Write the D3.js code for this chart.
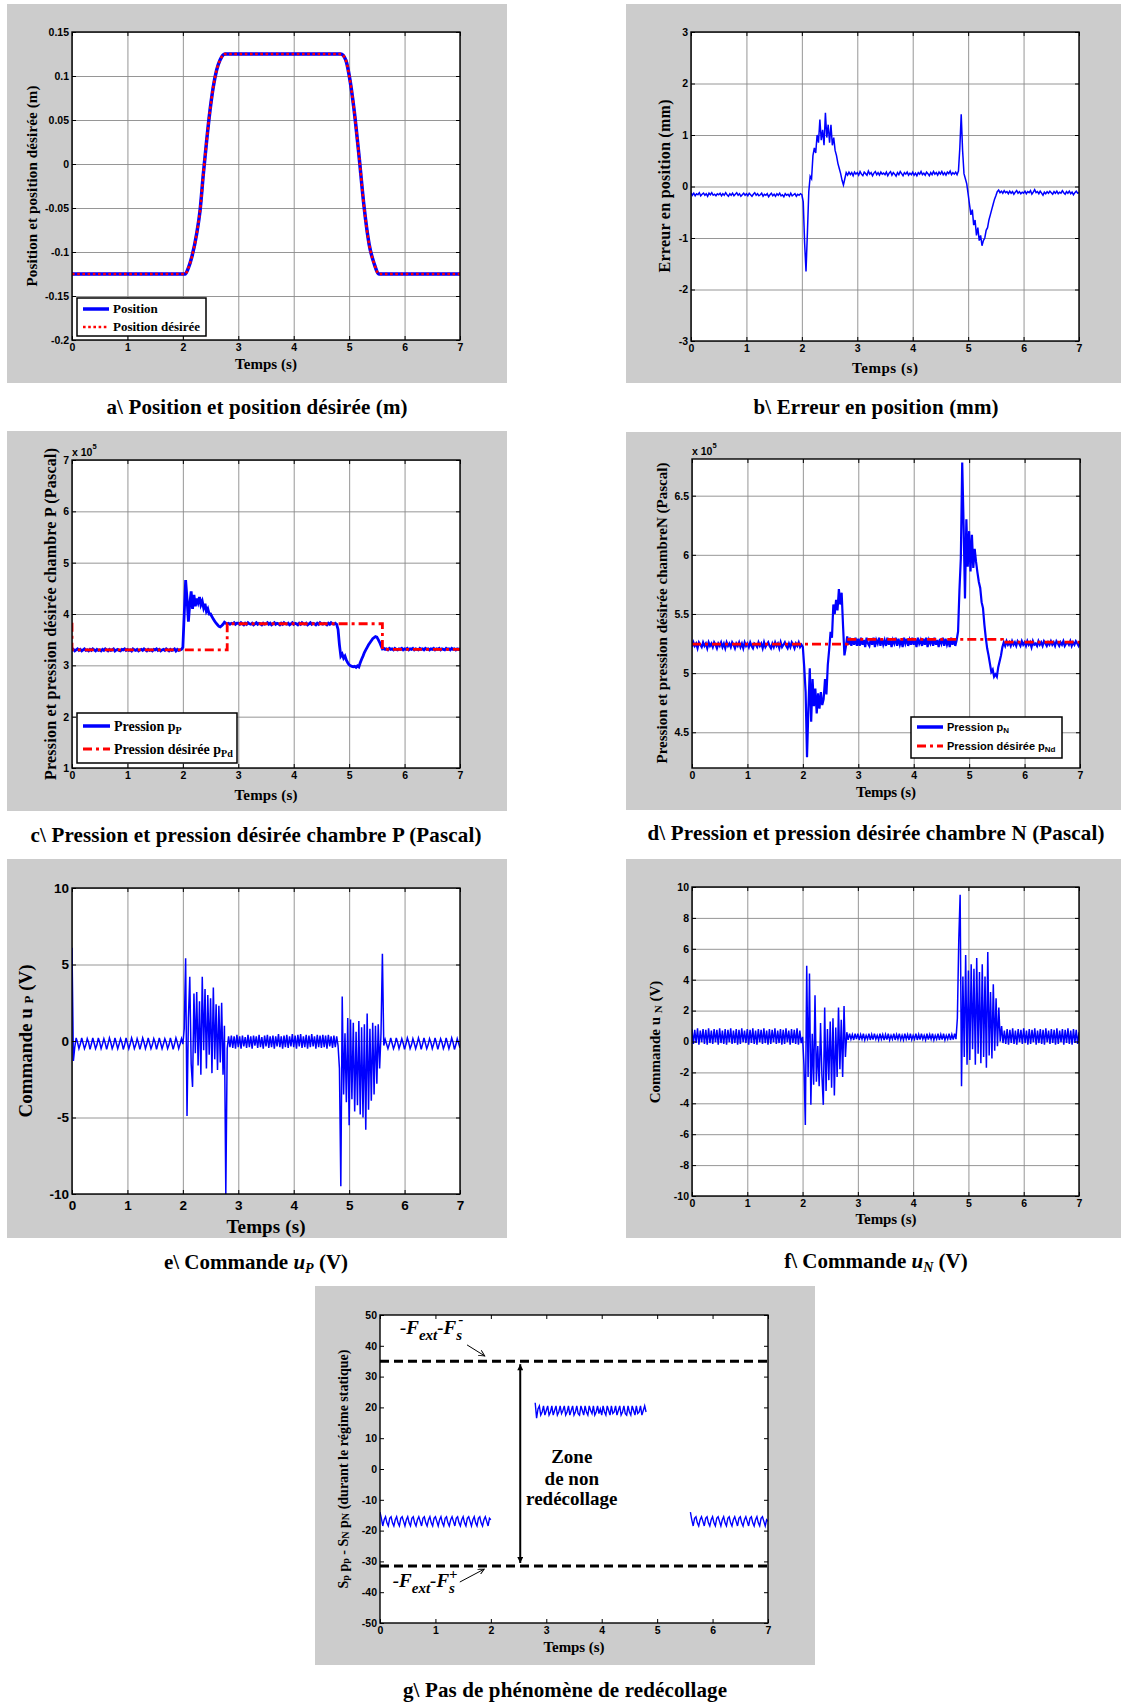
<!DOCTYPE html>
<html><head><meta charset="utf-8">
<script src="https://cdn.jsdelivr.net/npm/d3@7"></script>
<style>body{margin:0;background:#fff;}svg{display:block;}</style>
</head><body>
<svg id="fig" width="1121" height="1704"></svg>
<script>
// ---------------- DATA ----------------
const DT = 0.025;                       // sample period of the recorded signals (s)
const timeTicks = [0,1,2,3,4,5,6,7];

// a) position (m)
const posTime    = [0,2.04,2.1,2.16,2.25,2.31,2.37,2.43,2.49,2.55,2.61,2.67,2.76,4.85,4.94,5.0,5.09,5.18,5.27,5.36,5.45,5.54,7];
const posValue   = [-0.125,-0.125,-0.118,-0.106,-0.079,-0.053,-0.011,0.027,0.061,0.088,0.107,0.118,0.125,0.125,0.118,0.101,0.061,0.008,-0.049,-0.091,-0.113,-0.125,-0.125];
const posDesired = [-0.125,-0.125,-0.118,-0.106,-0.079,-0.053,-0.011,0.027,0.061,0.088,0.107,0.118,0.125,0.125,0.118,0.101,0.061,0.008,-0.049,-0.091,-0.113,-0.125,-0.125];
const posTicks = [-0.2,-0.15,-0.1,-0.05,0,0.05,0.1,0.15];

// b) position error (mm), one row = 0.5 s
const errMM = [
-0.12,-0.17,-0.13,-0.18,-0.14,-0.16,-0.12,-0.18,-0.15,-0.13,-0.17,-0.14,-0.19,-0.13,-0.16,-0.12,-0.17,-0.15,-0.18,-0.14,
-0.16,-0.13,-0.18,-0.14,-0.17,-0.12,-0.16,-0.19,-0.14,-0.17,-0.13,-0.18,-0.15,-0.12,-0.17,-0.14,-0.19,-0.16,-0.13,-0.17,
-0.14,-0.18,-0.13,-0.16,-0.19,-0.15,-0.12,-0.17,-0.14,-0.18,-0.16,-0.13,-0.19,-0.15,-0.17,-0.14,-0.2,-0.16,-0.13,-0.18,
-0.15,-0.19,-0.14,-0.17,-0.13,-0.18,-0.16,-0.2,-0.14,-0.17,-0.15,-0.19,-0.13,-0.18,-0.16,-0.14,-0.19,-0.15,-0.17,-0.14,
-0.16,-0.3,-1.1,-1.65,-0.9,-0.1,0.2,0.15,0.6,0.75,0.65,1.0,0.85,1.3,0.9,1.1,0.8,1.43,0.95,1.2,
0.85,1.2,0.8,0.95,0.7,0.6,0.45,0.35,0.25,0.12,0.03,0.15,0.27,0.22,0.28,0.23,0.27,0.21,0.28,0.24,
0.27,0.22,0.29,0.24,0.21,0.28,0.25,0.22,0.3,0.24,0.27,0.21,0.26,0.29,0.23,0.27,0.22,0.28,0.24,0.26,
0.23,0.28,0.21,0.26,0.29,0.22,0.27,0.24,0.2,0.27,0.23,0.29,0.25,0.21,0.27,0.24,0.28,0.22,0.26,0.23,
0.28,0.22,0.26,0.21,0.27,0.24,0.29,0.23,0.26,0.22,0.28,0.25,0.21,0.27,0.23,0.29,0.24,0.27,0.22,0.28,
0.24,0.29,0.23,0.27,0.22,0.28,0.25,0.3,0.23,0.27,0.24,0.28,0.23,0.3,0.75,1.4,0.7,0.25,0.15,0.05,
-0.15,-0.35,-0.55,-0.45,-0.75,-0.65,-0.95,-0.8,-1.05,-0.95,-1.15,-1.05,-1.0,-0.85,-0.8,-0.65,-0.55,-0.45,-0.35,-0.25,
-0.18,-0.1,-0.07,-0.12,-0.09,-0.13,-0.08,-0.12,-0.1,-0.14,-0.09,-0.13,-0.1,-0.15,-0.11,-0.08,-0.13,-0.1,-0.14,-0.11,
-0.13,-0.09,-0.14,-0.1,-0.12,-0.08,-0.15,-0.11,-0.06,-0.12,-0.1,-0.14,-0.09,-0.13,-0.17,-0.11,-0.14,-0.1,-0.13,-0.09,
-0.12,-0.15,-0.1,-0.13,-0.09,-0.14,-0.11,-0.13,-0.08,-0.12,-0.15,-0.1,-0.13,-0.09,-0.14,-0.11,-0.16,-0.12,-0.09,-0.13,
-0.12];
const errTicks = [-3,-2,-1,0,1,2,3];

// c) pressure chamber P (x1e5 Pa)
const pP = [
3.29,3.31,3.28,3.3,3.32,3.29,3.31,3.28,3.3,3.32,3.29,3.3,3.28,3.31,3.29,3.32,3.3,3.28,3.31,3.29,
3.3,3.28,3.31,3.29,3.32,3.3,3.28,3.31,3.29,3.3,3.32,3.28,3.3,3.31,3.29,3.28,3.31,3.3,3.32,3.29,
3.31,3.29,3.3,3.28,3.32,3.3,3.29,3.31,3.28,3.3,3.31,3.29,3.32,3.3,3.28,3.31,3.29,3.3,3.28,3.31,
3.3,3.32,3.29,3.31,3.28,3.3,3.31,3.29,3.32,3.3,3.28,3.31,3.29,3.3,3.32,3.28,3.31,3.29,3.3,3.31,
3.35,4.0,4.66,4.3,3.85,4.2,4.44,4.1,4.37,4.15,4.3,4.22,4.33,4.18,4.25,4.12,4.2,4.05,4.1,4.0,
4.0,3.95,3.9,3.86,3.82,3.79,3.76,3.75,3.77,3.8,3.84,3.82,3.81,3.82,3.8,3.82,3.81,3.83,3.8,3.82,
3.82,3.8,3.83,3.81,3.79,3.82,3.8,3.83,3.81,3.8,3.82,3.79,3.81,3.83,3.8,3.82,3.81,3.79,3.82,3.8,
3.81,3.83,3.8,3.82,3.79,3.81,3.83,3.8,3.82,3.81,3.79,3.82,3.8,3.83,3.81,3.8,3.82,3.79,3.81,3.83,
3.8,3.82,3.81,3.79,3.82,3.8,3.83,3.81,3.8,3.82,3.79,3.81,3.83,3.8,3.82,3.81,3.79,3.82,3.8,3.83,
3.81,3.8,3.82,3.81,3.79,3.82,3.8,3.83,3.81,3.8,3.82,3.8,3.7,3.4,3.18,3.22,3.14,3.18,3.1,3.05,
3.01,2.99,2.98,2.97,2.98,2.96,2.99,2.97,3.05,3.12,3.18,3.25,3.3,3.35,3.4,3.44,3.48,3.52,3.54,3.56,
3.55,3.5,3.45,3.38,3.32,3.33,3.31,3.32,3.3,3.33,3.31,3.32,3.3,3.33,3.31,3.3,3.32,3.31,3.33,3.3,
3.32,3.31,3.33,3.3,3.32,3.31,3.33,3.3,3.32,3.31,3.3,3.33,3.31,3.32,3.3,3.33,3.31,3.32,3.3,3.32,
3.31,3.33,3.3,3.32,3.31,3.33,3.3,3.32,3.31,3.3,3.33,3.31,3.32,3.3,3.33,3.31,3.32,3.3,3.32,3.31,
3.32];
const pPdTime  = [0,0,2.8,2.8,5.6,5.6,7];
const pPdValue = [3.83,3.3,3.3,3.81,3.81,3.31,3.31];
const pPTicks = [1,2,3,4,5,6,7];

// d) pressure chamber N (x1e5 Pa)
const pN = [
5.22,5.26,5.23,5.25,5.21,5.26,5.24,5.22,5.26,5.23,5.25,5.21,5.26,5.23,5.25,5.22,5.26,5.24,5.21,5.25,
5.23,5.26,5.22,5.25,5.21,5.26,5.23,5.25,5.22,5.26,5.24,5.21,5.25,5.23,5.26,5.22,5.25,5.21,5.26,5.23,
5.25,5.22,5.26,5.23,5.21,5.25,5.24,5.22,5.26,5.23,5.25,5.21,5.26,5.22,5.24,5.26,5.23,5.21,5.25,5.22,
5.26,5.23,5.25,5.21,5.26,5.22,5.24,5.26,5.23,5.21,5.25,5.22,5.26,5.24,5.21,5.25,5.23,5.26,5.22,5.24,
5.22,5.05,4.84,4.29,4.7,5.04,4.59,4.95,4.72,4.87,4.66,4.83,4.7,4.84,4.73,4.78,4.95,4.82,5.07,5.2,
5.35,5.3,5.58,5.5,5.62,5.53,5.71,5.58,5.68,5.4,5.15,5.22,5.31,5.24,5.3,5.23,5.29,5.24,5.3,5.23,
5.29,5.23,5.3,5.24,5.28,5.22,5.3,5.25,5.23,5.29,5.24,5.3,5.22,5.28,5.25,5.3,5.23,5.29,5.24,5.28,
5.23,5.3,5.24,5.29,5.22,5.28,5.25,5.3,5.23,5.29,5.24,5.28,5.22,5.3,5.25,5.29,5.23,5.28,5.24,5.3,
5.24,5.29,5.22,5.3,5.25,5.28,5.23,5.29,5.24,5.3,5.22,5.28,5.25,5.29,5.23,5.3,5.24,5.28,5.22,5.29,
5.25,5.3,5.23,5.29,5.24,5.28,5.22,5.3,5.24,5.29,5.23,5.28,5.35,5.7,5.97,6.78,6.25,5.63,6.3,5.9,
6.2,5.86,6.17,5.89,6.05,5.94,5.85,5.77,5.72,5.6,5.55,5.41,5.3,5.21,5.15,5.08,5.01,5.03,4.97,4.99,
4.97,5.05,5.1,5.15,5.22,5.26,5.23,5.27,5.24,5.26,5.23,5.27,5.24,5.26,5.23,5.27,5.25,5.23,5.27,5.24,
5.26,5.23,5.27,5.24,5.26,5.22,5.27,5.24,5.25,5.23,5.27,5.24,5.26,5.23,5.27,5.25,5.23,5.26,5.24,5.27,
5.24,5.26,5.23,5.27,5.25,5.23,5.26,5.24,5.27,5.23,5.25,5.26,5.24,5.27,5.23,5.26,5.24,5.27,5.25,5.23,
5.26];
const pNdTime  = [0,2.8,2.8,5.6,5.6,7];
const pNdValue = [5.245,5.245,5.285,5.285,5.262,5.262];
const pNTicks = [4.5,5,5.5,6,6.5];

// e) command uP (V)
const uP = [
6.1,-1.3,-0.4,0.2,-0.1,-0.5,-0.2,0.2,-0.15,-0.5,-0.25,0.15,-0.1,-0.55,-0.2,0.2,-0.15,-0.5,-0.25,0.2,
-0.1,-0.5,-0.2,0.15,-0.15,-0.55,-0.2,0.2,-0.1,-0.5,-0.25,0.2,-0.15,-0.5,-0.2,0.15,-0.1,-0.55,-0.25,0.2,
-0.15,-0.5,-0.2,0.2,-0.1,-0.5,-0.25,0.15,-0.15,-0.55,-0.2,0.2,-0.1,-0.5,-0.2,0.2,-0.15,-0.5,-0.25,0.15,
-0.1,-0.55,-0.2,0.2,-0.15,-0.5,-0.2,0.15,-0.1,-0.5,-0.25,0.2,-0.15,-0.55,-0.2,0.2,-0.1,-0.5,-0.2,0.15,
-0.2,0.8,5.4,-4.9,1.5,4.2,-1.5,-3.0,3.1,-0.8,3.2,-1.6,2.6,-2.2,4.2,-0.6,3.4,-1.8,3.0,-0.9,
2.8,-2.1,3.5,-1.2,2.4,-1.9,2.3,-1.4,2.5,-2.2,1.0,-10,-0.5,0.3,-0.4,0.35,-0.45,0.3,-0.5,0.4,
-0.4,0.3,-0.5,0.35,-0.35,0.25,-0.45,0.4,-0.4,0.3,-0.5,0.35,-0.3,0.3,-0.45,0.4,-0.4,0.25,-0.5,0.35,
-0.35,0.4,-0.45,0.3,-0.4,0.35,-0.5,0.3,-0.35,0.45,-0.4,0.3,-0.5,0.35,-0.4,0.4,-0.45,0.3,-0.35,0.45,
-0.4,0.35,-0.5,0.4,-0.35,0.45,-0.45,0.3,-0.4,0.4,-0.5,0.35,-0.4,0.45,-0.35,0.3,-0.5,0.4,-0.4,0.35,
-0.45,0.4,-0.4,0.35,-0.5,0.4,-0.35,0.3,-0.45,0.35,-0.4,0.3,-0.3,-1.8,-9.5,2.9,-3.5,0.5,-4.0,1.5,
-5.5,1.4,-3.8,1.2,-4.6,0.6,-4.2,1.3,-4.8,0.9,-5.0,1.1,-5.8,1.8,-4.5,0.8,-3.9,1.2,-3.5,1.0,
-2.8,1.1,-1.8,0.5,5.7,-0.3,0.1,-0.2,-0.5,-0.2,0.2,-0.15,-0.5,-0.25,0.2,-0.1,-0.5,-0.2,0.15,-0.15,
-0.55,-0.2,0.2,-0.1,-0.5,-0.25,0.15,-0.15,-0.5,-0.2,0.2,-0.1,-0.55,-0.2,0.2,-0.15,-0.5,-0.25,0.15,-0.1,
-0.5,-0.2,0.2,-0.15,-0.55,-0.2,0.15,-0.1,-0.5,-0.25,0.2,-0.15,-0.5,-0.2,0.2,-0.1,-0.55,-0.25,0.15,-0.15,
-0.45];
const uPTicks = [-10,-5,0,5,10];

// f) command uN (V)
const uN = [
0.8,-0.15,0.75,-0.1,0.85,-0.2,0.7,-0.05,0.8,-0.15,0.75,-0.2,0.85,-0.1,0.7,-0.15,0.8,-0.05,0.75,-0.2,
0.85,-0.1,0.7,-0.15,0.8,-0.2,0.75,-0.05,0.85,-0.15,0.7,-0.1,0.8,-0.2,0.75,-0.15,0.85,-0.05,0.7,-0.1,
0.8,-0.2,0.75,-0.1,0.85,-0.15,0.7,-0.2,0.8,-0.05,0.75,-0.15,0.85,-0.1,0.7,-0.2,0.8,-0.15,0.75,-0.05,
0.85,-0.15,0.7,-0.1,0.8,-0.2,0.75,-0.15,0.85,-0.05,0.7,-0.2,0.8,-0.1,0.75,-0.15,0.85,-0.2,0.7,-0.1,
0.3,-1.5,-5.4,4.9,-2.3,4.4,-4.1,0.5,-2.8,3.0,-2.6,-0.3,-2.9,1.2,-2.2,-4.1,2.2,-3.2,0.8,-2.5,
1.3,-3.0,1.5,-3.5,0.9,-2.3,2.2,-1.8,1.4,-2.3,2.3,-1.0,0.6,0.1,0.5,0.15,0.45,0.1,0.5,0.15,
0.5,0.1,0.45,0.15,0.5,0.1,0.4,0.15,0.5,0.1,0.45,0.12,0.5,0.15,0.4,0.1,0.5,0.15,0.45,0.1,
0.45,0.12,0.5,0.1,0.4,0.15,0.5,0.1,0.45,0.15,0.5,0.12,0.4,0.1,0.5,0.15,0.45,0.1,0.5,0.12,
0.4,0.15,0.5,0.1,0.45,0.12,0.5,0.15,0.4,0.1,0.5,0.12,0.45,0.15,0.5,0.1,0.4,0.15,0.5,0.1,
0.45,0.12,0.5,0.1,0.4,0.15,0.5,0.1,0.45,0.12,0.5,0.15,1.5,6.5,9.5,-2.9,4.2,-1.0,5.6,-1.5,
4.6,-1.2,5.0,-0.5,4.7,-1.5,5.4,-0.8,4.5,-1.4,5.0,-1.0,4.2,-1.7,5.8,-0.9,3.2,-1.1,3.7,-0.6,
2.8,-0.3,2.2,0.0,1.0,-0.1,0.7,-0.15,0.8,-0.2,0.75,-0.1,0.85,-0.15,0.7,-0.2,0.8,-0.05,0.75,-0.15,
0.85,-0.1,0.7,-0.2,0.8,-0.15,0.75,-0.05,0.85,-0.2,0.7,-0.1,0.8,-0.15,0.75,-0.2,0.85,-0.05,0.7,-0.15,
0.8,-0.1,0.75,-0.2,0.85,-0.15,0.7,-0.05,0.8,-0.2,0.75,-0.1,0.85,-0.15,0.7,-0.2,0.8,-0.1,0.75,-0.15,
0.6];
const uNTicks = [-10,-8,-6,-4,-2,0,2,4,6,8,10];

// g) Sp pP - SN pN during static phases (N); null = not in static phase
const forceStatic = [
-14,-16,-18.5,-16.5,-15.5,-17.5,-18.5,-16,-15.5,-17.5,-18.5,-16.5,-15.5,-17.5,-18.5,-16,-15.5,-17,-18.5,-16.5,
-15.5,-17.5,-18.5,-16,-15.5,-17.5,-18.5,-16.5,-15.5,-17,-18.5,-16,-15.5,-17.5,-18.5,-16.5,-15.5,-17.5,-18.5,-16,
-15.5,-17,-18.5,-16.5,-15.5,-17.5,-18.5,-16,-15.5,-17.5,-18.5,-16.5,-15.5,-17,-18.5,-16,-15.5,-17.5,-18.5,-16.5,
-15.5,-17.5,-18.5,-16,-15.5,-17,-18.5,-16.5,-15.5,-17.5,-18.5,-16,-15.5,-17.5,-18.5,-16.5,-15.5,-17,-18.5,-16,
-16.5,null,null,null,null,null,null,null,null,null,null,null,null,null,null,null,null,null,null,null,
null,null,null,null,null,null,null,null,null,null,null,null,21.5,16.5,19.5,20.5,17.5,18.5,20.5,17.5,
19,20.5,17.5,18.5,20.5,17.5,19,20.5,17.5,18.5,20.5,18,19,20.5,17.5,18.5,20.5,17.5,19,20.5,
17.5,18.5,20.5,18,17.5,20.5,19,17.5,20.5,18.5,17.5,20.5,19,18,20.5,17.5,18.5,20.5,18,19.5,
17.5,20.5,18.5,17.5,20.5,19,17.5,20.5,18,18.5,20.5,17.5,19,20.5,17.5,18.5,20.5,18,17.5,20.5,
18.5,17.5,20.5,19,17.5,20.5,18,18.5,20.5,17.5,19,20.5,18.5,null,null,null,null,null,null,null,
null,null,null,null,null,null,null,null,null,null,null,null,null,null,null,null,null,null,null,null,
null,null,null,null,-14,-16.5,-18.5,-16,-15.5,-17.5,-18.5,-16.5,-15.5,-17,-18.5,-16,-15.5,-17.5,-18.5,-16.5,
-15.5,-17.5,-18.5,-16,-15.5,-17,-18.5,-16.5,-15.5,-17.5,-18.5,-16,-15.5,-17.5,-18.5,-16.5,-15.5,-17,-18.5,-16,
-15.5,-17.5,-18.5,-16.5,-15.5,-17,-18.5,-16,-15.5,-17.5,-18.5,-16.5,-15.5,-17.5,-18.5,-16,-15.5,-17,-18.5,-16.5,
-17];
const thresholdUpper = 35;    // -Fext - Fs-
const thresholdLower = -31.5; // -Fext - Fs+
const forceTicks = [-50,-40,-30,-20,-10,0,10,20,30,40,50];

// ---------------- DRAWING ----------------
const svg = d3.select('#fig');
const SERIF = '"Liberation Serif","Times New Roman",Times,serif';
const SANS = '"Liberation Sans",Arial,Helvetica,sans-serif';
const BLUE = '#0000ff', RED = '#ff0000';

function pathFor(x, y, ts, vs, curve) {
  return d3.line().defined(d => d != null)
    .x((d, i) => x(ts[i])).y(d => y(d)).curve(curve || d3.curveLinear)(vs);
}
function sampledTimes(vs) { return vs.map((_, i) => i * DT); }

function makePanel(o) {
  const [bx0, by0, bx1, by1] = o.box, [px0, py0, px1, py1] = o.plot;
  const root = svg.append('g');
  root.append('rect').attr('x', bx0).attr('y', by0).attr('width', bx1 - bx0).attr('height', by1 - by0).attr('fill', '#cccccc');
  root.append('rect').attr('x', px0).attr('y', py0).attr('width', px1 - px0).attr('height', py1 - py0).attr('fill', '#ffffff');
  const x = d3.scaleLinear().domain([0, 7]).range([px0, px1]);
  const y = d3.scaleLinear().domain(o.yDomain).range([py1, py0]);
  const gridStyle = s => { s.select('.domain').remove(); s.selectAll('.tick text').remove();
    s.selectAll('.tick line').attr('stroke', '#8a8a8a').attr('stroke-width', 0.9); };
  if (o.grid !== false) {
    root.append('g').attr('transform', `translate(0,${py1})`)
      .call(d3.axisBottom(x).tickValues(timeTicks).tickSize(-(py1 - py0))).call(gridStyle);
    root.append('g').attr('transform', `translate(${px0},0)`)
      .call(d3.axisLeft(y).tickValues(o.yTicks).tickSize(-(px1 - px0))).call(gridStyle);
  }
  root.append('clipPath').attr('id', 'clip-' + o.id).append('rect')
    .attr('x', px0).attr('y', py0 - 1).attr('width', px1 - px0).attr('height', py1 - py0 + 2);
  const plot = root.append('g').attr('clip-path', `url(#clip-${o.id})`);
  const over = root.append('g');
  function finish() {
    const tickStyle = s => { s.select('.domain').remove();
      s.selectAll('.tick line').attr('stroke', '#000').attr('stroke-width', 1);
      s.selectAll('.tick text').attr('font-family', SANS).attr('font-weight', 'bold')
        .attr('font-size', o.tickFont).attr('fill', '#000'); };
    const none = () => '';
    over.append('g').attr('transform', `translate(0,${py1})`)
      .call(d3.axisBottom(x).tickValues(timeTicks).tickSize(-4).tickPadding(o.xPad).tickFormat(d => String(d))).call(tickStyle);
    over.append('g').attr('transform', `translate(0,${py0})`)
      .call(d3.axisTop(x).tickValues(timeTicks).tickSize(-4).tickFormat(none)).call(tickStyle);
    over.append('g').attr('transform', `translate(${px0},0)`)
      .call(d3.axisLeft(y).tickValues(o.yTicks).tickSize(-4).tickPadding(3).tickFormat(d => String(+d.toFixed(3)))).call(tickStyle);
    over.append('g').attr('transform', `translate(${px1},0)`)
      .call(d3.axisRight(y).tickValues(o.yTicks).tickSize(-4).tickFormat(none)).call(tickStyle);
    over.append('rect').attr('x', px0).attr('y', py0).attr('width', px1 - px0).attr('height', py1 - py0)
      .attr('fill', 'none').attr('stroke', '#000').attr('stroke-width', 1.4);
  }
  return { x, y, plot, over, root, finish, px0, py0, px1, py1 };
}

// text helper: parts = [{t, sub, sup, it, fs, dx}]
function rich(sel, parts) {
  parts.forEach(p => {
    const ts = sel.append('tspan').text(p.t);
    if (p.sub) ts.attr('baseline-shift', p.shift || '-28%').attr('font-size', p.fs || '72%');
    if (p.sup) ts.attr('baseline-shift', p.shift || '45%').attr('font-size', p.fs || '72%');
    if (p.it) ts.attr('font-style', 'italic');
    if (p.dx) ts.attr('dx', p.dx);
  });
  return sel;
}
function serifText(x, y, size, parts, opts) {
  opts = opts || {};
  const t = svg.append('text').attr('font-family', opts.sans ? SANS : SERIF).attr('font-weight', 'bold')
    .attr('font-size', size).attr('fill', '#000').attr('text-anchor', opts.anchor || 'middle');
  if (opts.rotate) { t.attr('transform', `translate(${x},${y}) rotate(-90)`).attr('dominant-baseline', 'central'); }
  else { t.attr('x', x).attr('y', y); if (opts.central) t.attr('dominant-baseline', 'central'); }
  if (typeof parts === 'string') t.text(parts); else rich(t, parts);
  if (opts.len) t.attr('textLength', opts.len).attr('lengthAdjust', 'spacing');
  return t;
}
function legendBox(x0, y0, w, h) {
  svg.append('rect').attr('x', x0).attr('y', y0).attr('width', w).attr('height', h)
    .attr('fill', '#fff').attr('stroke', '#000').attr('stroke-width', 1.5);
}
function legendLine(x0, x1, yy, color, width, dash) {
  const l = svg.append('line').attr('x1', x0).attr('x2', x1).attr('y1', yy).attr('y2', yy)
    .attr('stroke', color).attr('stroke-width', width);
  if (dash) l.attr('stroke-dasharray', dash);
}
function exponentLabel(P) {
  const ex = svg.append('text').attr('x', P.px0).attr('y', P.py0 - 4).attr('font-family', SANS)
    .attr('font-weight', 'bold').attr('font-size', 10.5).attr('fill', '#000');
  rich(ex, [{ t: 'x 10' }, { t: '5', sup: true, fs: 7.5, shift: '7' }]);
}

// ---- Panel a ----
{
  const P = makePanel({ id: 'a', box: [7, 4, 507, 383], plot: [72, 32, 460, 340], yDomain: [-0.2, 0.15], yTicks: posTicks, tickFont: 10.5, xPad: 4 });
  P.plot.append('path').attr('d', pathFor(P.x, P.y, posTime, posValue, d3.curveMonotoneX))
    .attr('fill', 'none').attr('stroke', BLUE).attr('stroke-width', 3.5);
  P.plot.append('path').attr('d', pathFor(P.x, P.y, posTime, posDesired, d3.curveMonotoneX))
    .attr('fill', 'none').attr('stroke', RED).attr('stroke-width', 2.6).attr('stroke-dasharray', '2.6,2.6');
  P.finish();
  const lx = P.px0 + 5, ly = P.py1 - 42;
  legendBox(lx, ly, 129, 38);
  legendLine(lx + 6, lx + 32, ly + 11, BLUE, 3.5);
  legendLine(lx + 6, lx + 32, ly + 29, RED, 2.6, '2.6,2.6');
  serifText(lx + 36, ly + 15, 13, 'Position', { anchor: 'start' });
  serifText(lx + 36, ly + 33, 13, 'Position désirée', { anchor: 'start' });
  serifText(266, 364, 15, 'Temps (s)', { central: true, len: 62 });
  serifText(32, 186, 15, 'Position et position désirée (m)', { rotate: true, len: 201 });
  serifText(257, 414, 21, 'a\\ Position et position désirée (m)', { len: 301 });
}

// ---- Panel b ----
{
  const P = makePanel({ id: 'b', box: [626, 4, 1121, 383], plot: [691, 32, 1079, 341], yDomain: [-3, 3], yTicks: errTicks, tickFont: 10.5, xPad: 4 });
  P.plot.append('path').attr('d', pathFor(P.x, P.y, sampledTimes(errMM), errMM))
    .attr('fill', 'none').attr('stroke', BLUE).attr('stroke-width', 1.5);
  P.finish();
  serifText(885, 368, 15, 'Temps (s)', { central: true, len: 66 });
  serifText(664, 186, 16, 'Erreur en position (mm)', { rotate: true, len: 173 });
  serifText(876, 414, 21, 'b\\ Erreur en position (mm)', { len: 245 });
}

// ---- Panel c ----
{
  const P = makePanel({ id: 'c', box: [7, 431, 507, 811], plot: [72, 460, 460, 768], yDomain: [1, 7], yTicks: pPTicks, tickFont: 10.5, xPad: 4 });
  P.plot.append('path').attr('d', pathFor(P.x, P.y, sampledTimes(pP), pP))
    .attr('fill', 'none').attr('stroke', BLUE).attr('stroke-width', 2.8);
  P.plot.append('path').attr('d', pathFor(P.x, P.y, pPdTime, pPdValue))
    .attr('fill', 'none').attr('stroke', RED).attr('stroke-width', 2.8).attr('stroke-dasharray', '9,4,3,4');
  P.finish();
  exponentLabel(P);
  const lx = P.px0 + 5, ly = P.py1 - 55;
  legendBox(lx, ly, 160, 50);
  legendLine(lx + 6, lx + 33, ly + 13, BLUE, 3.5);
  legendLine(lx + 6, lx + 33, ly + 36, RED, 3, '9,4,3,4');
  serifText(lx + 37, ly + 18, 14, [{ t: 'Pression p' }, { t: 'P', sub: true }], { anchor: 'start' });
  serifText(lx + 37, ly + 41, 14, [{ t: 'Pression désirée p' }, { t: 'Pd', sub: true }], { anchor: 'start' });
  serifText(266, 795, 15, 'Temps (s)', { central: true, len: 63 });
  serifText(50, 614, 16, 'Pression et pression désirée chambre P (Pascal)', { rotate: true, len: 332 });
  serifText(256, 842, 21, 'c\\ Pression et pression désirée chambre P (Pascal)', { len: 451 });
}

// ---- Panel d ----
{
  const P = makePanel({ id: 'd', box: [626, 432, 1121, 810], plot: [692, 459, 1080, 768], yDomain: [4.198, 6.81], yTicks: pNTicks, tickFont: 10.5, xPad: 4 });
  P.plot.append('path').attr('d', pathFor(P.x, P.y, sampledTimes(pN), pN))
    .attr('fill', 'none').attr('stroke', BLUE).attr('stroke-width', 2.2);
  P.plot.append('path').attr('d', pathFor(P.x, P.y, pNdTime, pNdValue))
    .attr('fill', 'none').attr('stroke', RED).attr('stroke-width', 2.8).attr('stroke-dasharray', '9,4,3,4');
  P.finish();
  exponentLabel(P);
  const lx = P.px1 - 169, ly = P.py1 - 51;
  legendBox(lx, ly, 151, 41);
  legendLine(lx + 6, lx + 32, ly + 10, BLUE, 3.5);
  legendLine(lx + 6, lx + 32, ly + 29, RED, 3, '9,4,3,4');
  serifText(lx + 36, ly + 14, 11, [{ t: 'Pression p' }, { t: 'N', sub: true, fs: 8 }], { anchor: 'start', sans: true });
  serifText(lx + 36, ly + 33, 11, [{ t: 'Pression désirée p' }, { t: 'Nd', sub: true, fs: 8 }], { anchor: 'start', sans: true });
  serifText(886, 792, 15, 'Temps (s)', { central: true, len: 60 });
  serifText(662, 613, 15, 'Pression et pression désirée chambreN (Pascal)', { rotate: true, len: 301 });
  serifText(876, 840, 21, 'd\\ Pression et pression désirée chambre N (Pascal)', { len: 457 });
}

// ---- Panel e ----
{
  const P = makePanel({ id: 'e', box: [7, 859, 507, 1238], plot: [72, 888, 460, 1194], yDomain: [-10, 10], yTicks: uPTicks, tickFont: 13.5, xPad: 6 });
  P.plot.append('path').attr('d', pathFor(P.x, P.y, sampledTimes(uP), uP))
    .attr('fill', 'none').attr('stroke', BLUE).attr('stroke-width', 1.5);
  P.finish();
  serifText(266, 1226, 19, 'Temps (s)', { central: true, len: 79 });
  serifText(25, 1041, 19, [{ t: 'Commande u ' }, { t: 'P', sub: true, fs: 13 }, { t: ' (V)' }], { rotate: true });
  serifText(256, 1269, 21, [{ t: 'e\\ Commande ' }, { t: 'u', it: true }, { t: 'P', it: true, sub: true, fs: 14 }, { t: ' (V)' }]);
}

// ---- Panel f ----
{
  const P = makePanel({ id: 'f', box: [626, 859, 1121, 1238], plot: [692, 887, 1079, 1196], yDomain: [-10, 10], yTicks: uNTicks, tickFont: 10.5, xPad: 4 });
  P.plot.append('path').attr('d', pathFor(P.x, P.y, sampledTimes(uN), uN))
    .attr('fill', 'none').attr('stroke', BLUE).attr('stroke-width', 1.5);
  P.finish();
  serifText(886, 1219, 15, 'Temps (s)', { central: true, len: 61 });
  serifText(655, 1042, 15, [{ t: 'Commande u ' }, { t: 'N', sub: true, fs: 11 }, { t: ' (V)' }], { rotate: true });
  serifText(876, 1268, 21, [{ t: 'f\\ Commande ' }, { t: 'u', it: true }, { t: 'N', it: true, sub: true, fs: 14 }, { t: ' (V)' }]);
}

// ---- Panel g ----
{
  const P = makePanel({ id: 'g', box: [315, 1286, 815, 1665], plot: [380, 1315, 768, 1623], yDomain: [-50, 50], yTicks: forceTicks, tickFont: 10.5, xPad: 4, grid: false });
  P.plot.append('path').attr('d', pathFor(P.x, P.y, sampledTimes(forceStatic), forceStatic))
    .attr('fill', 'none').attr('stroke', BLUE).attr('stroke-width', 1.4);
  [thresholdUpper, thresholdLower].forEach(v => {
    P.plot.append('line').attr('x1', P.x(0)).attr('x2', P.x(7)).attr('y1', P.y(v)).attr('y2', P.y(v))
      .attr('stroke', '#000').attr('stroke-width', 3).attr('stroke-dasharray', '9,5');
  });
  P.finish();
  const defs = svg.append('defs');
  defs.append('marker').attr('id', 'headBig').attr('viewBox', '0 0 10 10').attr('refX', 10).attr('refY', 5)
    .attr('markerWidth', 10).attr('markerHeight', 6).attr('markerUnits', 'userSpaceOnUse').attr('orient', 'auto-start-reverse')
    .append('path').attr('d', 'M0,0L10,5L0,10Z').attr('fill', '#000');
  defs.append('marker').attr('id', 'headSmall').attr('viewBox', '0 0 10 10').attr('refX', 10).attr('refY', 5)
    .attr('markerWidth', 8).attr('markerHeight', 6).attr('markerUnits', 'userSpaceOnUse').attr('orient', 'auto')
    .append('path').attr('d', 'M0,0L10,5L0,10').attr('fill', 'none').attr('stroke', '#000').attr('stroke-width', 1.5);
  const arrowT = 2.53;
  svg.append('line').attr('x1', P.x(arrowT)).attr('x2', P.x(arrowT)).attr('y1', P.y(thresholdUpper) + 3).attr('y2', P.y(thresholdLower) - 3)
    .attr('stroke', '#000').attr('stroke-width', 2).attr('marker-start', 'url(#headBig)').attr('marker-end', 'url(#headBig)');
  svg.append('line').attr('x1', P.x(1.57)).attr('y1', P.y(40.3)).attr('x2', P.x(1.89)).attr('y2', P.y(36.7))
    .attr('stroke', '#000').attr('stroke-width', 1).attr('marker-end', 'url(#headSmall)');
  svg.append('line').attr('x1', P.x(1.44)).attr('y1', P.y(-36.7)).attr('x2', P.x(1.88)).attr('y2', P.y(-32.5))
    .attr('stroke', '#000').attr('stroke-width', 1).attr('marker-end', 'url(#headSmall)');
  serifText(P.x(0.36), P.y(43.8), 19, [{ t: '-F', it: true }, { t: 'ext', it: true, sub: true, fs: 15, shift: '-6' },
    { t: '-F', it: true }, { t: 's', it: true, sub: true, fs: 15, shift: '-6' }, { t: '-', sup: true, fs: 15, shift: '10', dx: -4 }], { anchor: 'start' });
  serifText(P.x(0.23), P.y(-38.3), 19, [{ t: '-F', it: true }, { t: 'ext', it: true, sub: true, fs: 15, shift: '-6' },
    { t: '-F', it: true }, { t: 's', it: true, sub: true, fs: 15, shift: '-6' }, { t: '+', sup: true, fs: 15, shift: '8', dx: -6 }], { anchor: 'start' });
  serifText(P.x(3.46), P.y(1.95), 19, 'Zone');
  serifText(P.x(3.46), P.y(-5.2), 19, 'de non');
  serifText(P.x(3.46), P.y(-11.7), 19, 'redécollage');
  serifText(574, 1647, 15, 'Temps (s)', { central: true, len: 61 });
  serifText(343, 1469, 14, [{ t: 'S' }, { t: 'p', sub: true }, { t: ' p' }, { t: 'p', sub: true }, { t: ' - S' }, { t: 'N', sub: true },
    { t: ' p' }, { t: 'N', sub: true }, { t: ' (durant le régime statique)' }], { rotate: true });
  serifText(565, 1697, 21, 'g\\ Pas de phénomène de redécollage', { len: 324 });
}
</script>
</body></html>
